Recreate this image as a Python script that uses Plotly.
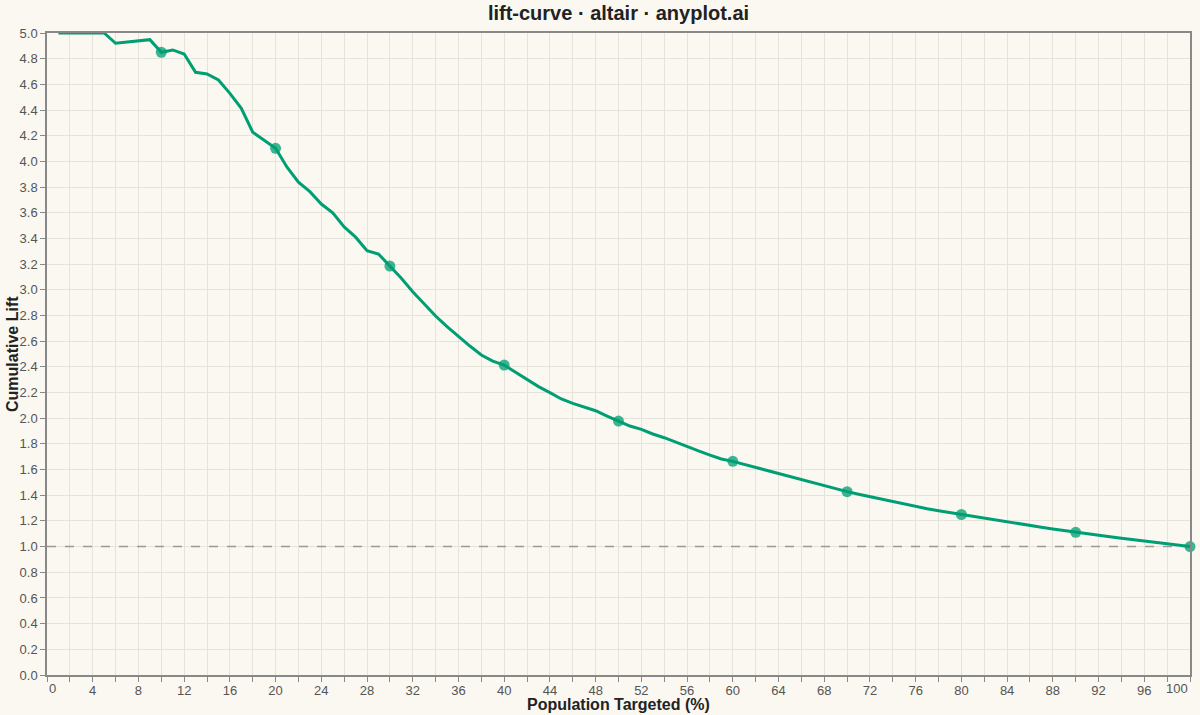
import plotly.graph_objects as go

# share of population targeted (%), one point per percentile
pct_targeted = list(range(1, 101))

cum_lift = [
    5.0, 5.0, 5.0, 5.0, 5.0, 4.92, 4.93, 4.94, 4.948, 4.85,
    4.868, 4.836, 4.694, 4.681, 4.634, 4.53, 4.414, 4.227, 4.167, 4.102,
    3.955, 3.838, 3.764, 3.668, 3.60, 3.49, 3.41, 3.305, 3.279, 3.185,
    3.09, 2.985, 2.889, 2.796, 2.713, 2.635, 2.562, 2.492, 2.445, 2.414,
    2.356, 2.303, 2.246, 2.199, 2.15, 2.116, 2.085, 2.058, 2.017, 1.978,
    1.939, 1.913, 1.877, 1.848, 1.812, 1.778, 1.745, 1.713, 1.682, 1.664,
    1.640, 1.616, 1.593, 1.569, 1.546, 1.524, 1.499, 1.475, 1.452, 1.428,
    1.408, 1.389, 1.369, 1.350, 1.330, 1.311, 1.295, 1.280, 1.265, 1.250,
    1.237, 1.224, 1.209, 1.194, 1.180, 1.166, 1.151, 1.137, 1.124, 1.111,
    1.099, 1.088, 1.076, 1.065, 1.054, 1.044, 1.032, 1.020, 1.010, 1.0,
]

# decile markers
decile_x = [10, 20, 30, 40, 50, 60, 70, 80, 90, 100]
decile_y = [cum_lift[x - 1] for x in decile_x]

baseline = 1.0

x_ticks = list(range(0, 101, 2))
x_ticktext = [str(v) if v % 4 == 0 and 0 < v < 100 else "" for v in x_ticks]

BG = "#FAF8F1"
GREEN = "#009E73"
GRID = "#E6E3DB"
AXIS = "#888888"
FONT = "Liberation Sans, Arial, sans-serif"
TICK_FONT = dict(size=13, color="#555555")
AXIS_TITLE_FONT = dict(size=16, color="#222222")

fig = go.Figure()

fig.add_trace(go.Scatter(
    x=[0, 100], y=[baseline, baseline],
    mode="lines",
    line=dict(color="#999999", width=1.5, dash="dash"),
    hoverinfo="skip",
    showlegend=False,
))

fig.add_trace(go.Scatter(
    x=pct_targeted, y=cum_lift,
    mode="lines",
    line=dict(color=GREEN, width=3),
    showlegend=False,
))

fig.add_trace(go.Scatter(
    x=decile_x, y=decile_y,
    mode="markers",
    marker=dict(color=GREEN, size=11, opacity=0.75, line=dict(width=0)),
    cliponaxis=False,
    showlegend=False,
))

fig.update_layout(
    width=1200,
    height=715,
    paper_bgcolor=BG,
    plot_bgcolor=BG,
    font=dict(family=FONT, color="#555555", size=13),
    margin=dict(l=47, r=10, t=33, b=40),
    title=dict(
        text="<b>lift-curve · altair · anyplot.ai</b>",
        xref="paper", x=0.5, xanchor="center",
        y=0.982, yanchor="middle",
        font=dict(size=20, color="#222222", family=FONT),
    ),
    xaxis=dict(
        range=[0, 100],
        automargin=False,
        tickvals=x_ticks,
        ticktext=x_ticktext,
        ticks="outside",
        ticklen=5,
        ticklabelstandoff=-2,
        tickcolor=AXIS,
        showgrid=True,
        gridcolor=GRID,
        gridwidth=1,
        zeroline=False,
        showline=True,
        linecolor=AXIS,
        linewidth=1.5,
        mirror=True,
        tickfont=TICK_FONT,
    ),
    yaxis=dict(
        range=[0, 5],
        automargin=False,
        dtick=0.2,
        tickformat=".1f",
        ticks="outside",
        ticklen=5,
        tickcolor=AXIS,
        showgrid=True,
        gridcolor=GRID,
        gridwidth=1,
        zeroline=False,
        showline=True,
        linecolor=AXIS,
        linewidth=1.5,
        mirror=True,
        tickfont=TICK_FONT,
    ),
)

# axis titles placed by hand so they sit where the reference has them
fig.add_annotation(x=0.5, y=0, xref="paper", yref="paper", yshift=-29,
                   text="<b>Population Targeted (%)</b>", showarrow=False,
                   xanchor="center", yanchor="middle", font=AXIS_TITLE_FONT)
fig.add_annotation(x=0, y=0.5, xref="paper", yref="paper", xshift=-35,
                   text="<b>Cumulative Lift</b>", showarrow=False, textangle=-90,
                   xanchor="center", yanchor="middle", font=AXIS_TITLE_FONT)

# flush end labels, as the reference draws them
fig.add_annotation(x=0, y=0, xref="x", yref="paper", text="0",
                   xanchor="left", yanchor="top", yshift=-4, showarrow=False,
                   font=TICK_FONT)
fig.add_annotation(x=100, y=0, xref="x", yref="paper", text="100",
                   xanchor="right", yanchor="top", yshift=-4, showarrow=False,
                   font=TICK_FONT)

# browser default body margin would push the fixed-size figure off the window
fig.write_html("out.html", config={"displayModeBar": False},
               post_script="document.body.style.margin='0';")
